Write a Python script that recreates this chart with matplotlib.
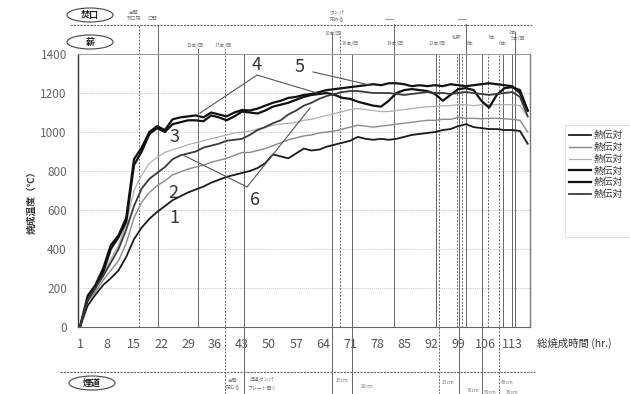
import numpy as np
import matplotlib
matplotlib.use("Agg")
import matplotlib.pyplot as plt
from matplotlib.patches import Ellipse, Rectangle

plt.rcParams['font.family'] = ['Noto Sans CJK JP', 'DejaVu Sans']

# firing hours (every 2 h) and thermocouple readings (deg C)
hours = list(range(1, 118, 2))

tc1 = [0, 110, 165, 215, 250, 290, 360, 450, 510, 555,
       590, 620, 650, 670, 690, 705, 720, 740, 755, 770,
       780, 790, 800, 815, 840, 885, 875, 865, 890, 915,
       905, 910, 925, 935, 945, 955, 975, 965, 960, 965,
       960, 965, 975, 985, 990, 995, 1000, 1010, 1015, 1030,
       1040, 1025, 1020, 1015, 1015, 1010, 1010, 1005, 940]
tc2 = [0, 130, 180, 240, 290, 340, 430, 560, 640, 690,
       725, 750, 780, 795, 810, 820, 830, 845, 855, 865,
       880, 895, 895, 905, 915, 930, 945, 960, 970, 980,
       985, 995, 1000, 1005, 1015, 1025, 1035, 1030, 1025, 1030,
       1035, 1040, 1045, 1050, 1055, 1060, 1060, 1065, 1065, 1075,
       1070, 1070, 1068, 1070, 1070, 1068, 1065, 1060, 1000]
tc3 = [0, 140, 200, 270, 350, 420, 530, 700, 780, 840,
       870, 895, 910, 920, 935, 945, 955, 965, 975, 985,
       995, 1000, 1005, 1015, 1025, 1035, 1040, 1045, 1050, 1060,
       1065, 1075, 1085, 1095, 1105, 1115, 1120, 1115, 1110, 1105,
       1105, 1110, 1115, 1120, 1125, 1130, 1130, 1135, 1135, 1140,
       1140, 1135, 1140, 1140, 1140, 1140, 1140, 1135, 1080]
tc4 = [0, 140, 200, 280, 400, 460, 540, 830, 900, 990,
       1020, 1000, 1040, 1050, 1060, 1060, 1055, 1085, 1075, 1060,
       1080, 1105, 1100, 1095, 1110, 1130, 1140, 1150, 1165, 1180,
       1190, 1195, 1200, 1190, 1175, 1170, 1155, 1145, 1135, 1130,
       1160, 1200, 1215, 1220, 1215, 1210, 1195, 1160, 1190, 1220,
       1225, 1215, 1160, 1125, 1190, 1225, 1230, 1215, 1110]
tc5 = [0, 160, 215, 300, 420, 470, 560, 860, 920, 1000,
       1030, 1010, 1065, 1075, 1080, 1085, 1075, 1100, 1090, 1080,
       1100, 1113, 1110, 1120, 1135, 1150, 1160, 1175, 1180, 1190,
       1195, 1205, 1215, 1220, 1225, 1230, 1235, 1240, 1245, 1240,
       1250, 1250, 1245, 1235, 1240, 1235, 1240, 1235, 1245, 1240,
       1235, 1240, 1245, 1250, 1245, 1240, 1235, 1200, 1110]
tc6 = [0, 140, 200, 260, 330, 400, 500, 620, 710, 760,
       790, 820, 860, 880, 890, 900, 920, 930, 940, 955,
       960, 965, 985, 1010, 1025, 1045, 1060, 1090, 1110, 1135,
       1150, 1170, 1185, 1195, 1205, 1210, 1210, 1205, 1200, 1200,
       1200, 1195, 1190, 1195, 1200, 1205, 1200, 1200, 1195, 1200,
       1205, 1200, 1195, 1190, 1195, 1200, 1205, 1180, 1080]

series = [tc1, tc2, tc3, tc4, tc5, tc6]
legend_names = ['熱伝対', '熱伝対', '熱伝対', '熱伝対', '熱伝対', '熱伝対']

x_ticks = list(range(1, 114, 7))
y_ticks = [0, 200, 400, 600, 800, 1000, 1200, 1400]

# event hours (stoking / damper changes)
solid_events = [21.2, 31.6, 43.5, 66.3, 71.5, 82.3, 93.2, 99.2, 101.0, 105.1, 110.6, 112.9, 113.7]
dotted_events = [16.3, 38.6, 68.4, 94.0, 98.7, 100.0, 106.7, 109.5]

colors = ['#1a1a1a', '#8a8a8a', '#b0b0b0', '#111111', '#111111', '#3a3a3a']
widths = [1.3, 1.0, 0.9, 1.6, 1.6, 1.3]

W, H = 630, 394
fig = plt.figure(figsize=(W / 100, H / 100), dpi=100)

# overlay in pixel coords for the frame decoration
ov = fig.add_axes([0, 0, 1, 1])
ov.set_xlim(0, W)
ov.set_ylim(H, 0)
ov.axis('off')

ax = fig.add_axes([78 / W, 1 - 327 / H, 452 / W, 273 / H])
ax.set_facecolor('none')

for s, c, lw in zip(series, colors, widths):
    ax.plot(hours, s, color=c, lw=lw, zorder=3)

ax.set_xlim(0.5, 117.6)
ax.set_ylim(0, 1400)
ax.set_xticks(x_ticks)
ax.set_yticks(y_ticks)
ax.tick_params(axis='x', length=0, pad=8, labelsize=9, labelcolor='#555')
ax.tick_params(axis='y', length=0, pad=8, labelsize=8.5, labelcolor='#666')
for y in y_ticks[1:]:
    ax.axhline(y, color='#c8c8c8', lw=0.7, ls=(0, (1, 1)), zorder=1)

ax.spines['left'].set_color('#333')
ax.spines['left'].set_linewidth(1.0)
ax.spines['bottom'].set_color('#666')
ax.spines['bottom'].set_linestyle((0, (1, 1)))
ax.spines['top'].set_color('#999')
ax.spines['top'].set_linewidth(0.7)
ax.spines['right'].set_color('#777')
ax.spines['right'].set_linewidth(1.0)

up_ext = {16.3: 1.106, 21.2: 1.106, 66.3: 1.077, 68.4: 1.077, 82.3: 1.11,
          101.0: 1.11, 113.7: 1.08, 31.6: 1.02, 38.6: 1.02}
down_ext = {38.6, 43.5, 66.3, 71.5, 94.0, 99.2, 105.1, 109.5}
xt = ax.get_xaxis_transform()
for h in solid_events + dotted_events:
    ls = '-' if h in solid_events else (0, (2, 1.5))
    y0 = -0.245 if h in down_ext else 0
    y1 = up_ext.get(h, 1.0)
    ax.plot([h, h], [y0, y1], transform=xt, color='#666', lw=0.7, ls=ls,
            clip_on=False, zorder=2)

# curve numbers with leader lines
lab = dict(fontsize=13, color='#333', ha='center', va='center', zorder=5)
ax.text(25.4, 560, '1', **lab)
ax.text(25.1, 688, '2', **lab)
ax.text(25.6, 975, '3', **lab)
ax.text(46.9, 1345, '4', **lab)
ax.text(58.0, 1335, '5', **lab)
ax.text(46.3, 650, '6', **lab)
lk = dict(color='#555', lw=0.8, zorder=4)
ax.plot([32.1, 46.9, 62.4], [1097, 1292, 1200], **lk)
ax.plot([61.4, 76.0], [1308, 1241], **lk)
ax.plot([27.7, 44.3, 60.6], [882, 718, 1123], **lk)

# header / footer rows
ov.plot([70, 532], [25, 25], color='#666', lw=0.8, ls=(0, (2, 1)))
ov.plot([60, 535], [372, 372], color='#666', lw=0.8, ls=(0, (2, 1)))
for cx, cy, txt in [(90, 15, '焚口'), (90, 42, '薪'), (92, 383, '煙道')]:
    ov.add_patch(Ellipse((cx, cy), 46, 14, fill=False, ec='#444', lw=0.8))
    ov.text(cx, cy, txt, fontsize=6.5, ha='center', va='center', color='#222',
            fontweight='bold')

small = dict(fontsize=3.5, color='#777', ha='center', va='center')
for x, y, t in [(134, 12, '全開'), (134, 18, '焚口閉'), (152, 18, '口開'),
                (337, 12, 'ダンパ'), (337, 19, '閉める'), (390, 19, '一一'),
                (463, 19, '一一')]:
    ov.text(x, y, t, **small)
for x, y, t in [(195, 45, '15本/回'), (223, 45, '17本/回'), (333, 33, '10本/回'),
                (350, 43, '16本/回'), (395, 43, '14本/回'), (437, 43, '12本/回'),
                (457, 37, '松薪'), (470, 43, '7本'), (492, 37, '7本'),
                (503, 43, '6本'), (513, 32, '2本'), (518, 38, '5本/回')]:
    ov.text(x, y, t, **small)
for x, y, t in [(233, 380, '全開'), (233, 388, '閉じる'), (262, 380, '煙道ダンパ'),
                (262, 388, 'プレート開く'), (342, 380, '15cm'), (367, 386, '20cm'),
                (448, 382, '25cm'), (473, 390, '70cm'), (490, 392, '50cm'),
                (507, 382, '40cm'), (512, 392, '30cm')]:
    ov.text(x, y, t, **small)

# axis titles
ov.text(537, 343, '総焼成時間 (hr.)', fontsize=7.5, ha='left', va='center', color='#333')
ov.text(32, 200, '焼成温度（℃）', fontsize=7, rotation=90, ha='center', va='center',
        color='#333', fontweight='bold')

# legend
ov.add_patch(Rectangle((565, 125), 70, 112, fill=False, ec='#e0e0e0', lw=0.6))
for i, (name, c, lw) in enumerate(zip(legend_names, colors, widths)):
    y = 135 + i * 11.8
    ov.plot([569, 591], [y, y], color=c, lw=lw)
    ov.text(594, y, name, fontsize=7, ha='left', va='center', color='#333')

fig.savefig('out.png', dpi=100)
